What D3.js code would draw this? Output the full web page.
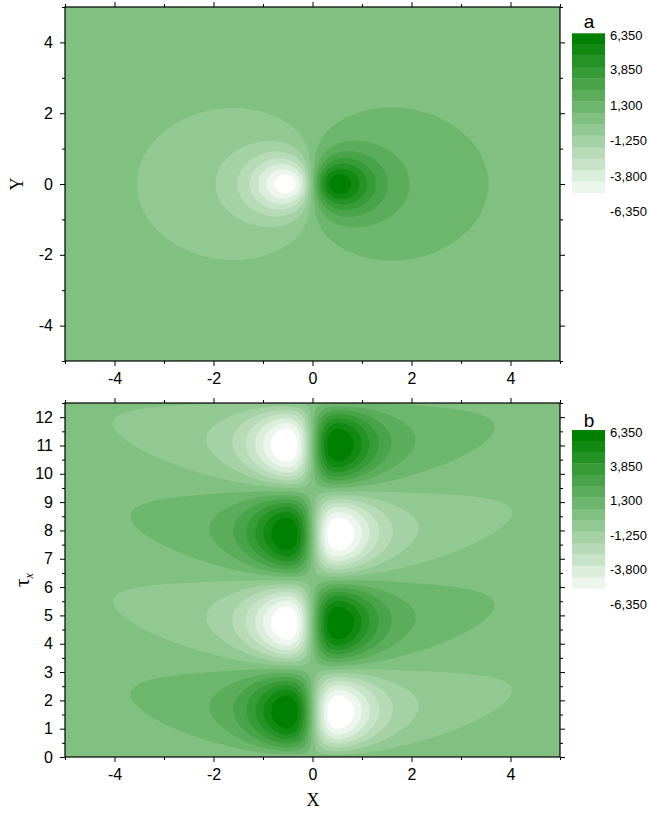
<!DOCTYPE html>
<html>
<head>
<meta charset="utf-8">
<script src="https://cdn.jsdelivr.net/npm/d3@7"></script>
<style>
  body { margin: 0; background: #fff; }
  .tick text { font-family: "Liberation Sans", Arial, sans-serif; }
</style>
</head>
<body>
<script>
// contour levels (lower edge of each colour band) and colour bar labels
const levels = [-6350, -5500, -4650, -3800, -2950, -2100, -1250, -400, 450, 1300, 2150, 3000, 3850, 4700, 5550];
const levelMax = 6350;
const barLabels = ["6,350", "3,850", "1,300", "-1,250", "-3,800", "-6,350"];
const barLabelValues = [6350, 3850, 1300, -1250, -3800, -6350];

// axis ticks
const xMajor = [-4, -2, 0, 2, 4];
const xMinor = [-5, -3, -1, 1, 3, 5];
const yMajor = [-4, -2, 0, 2, 4];
const yMinor = [-5, -3, -1, 1, 3, 5];
const tauMajor = [0, 1, 2, 3, 4, 5, 6, 7, 8, 9, 10, 11, 12];
const tauMinor = [0.5, 1.5, 2.5, 3.5, 4.5, 5.5, 6.5, 7.5, 8.5, 9.5, 10.5, 11.5, 12.5];

// field parameters (dipole profile along X)
const tailAmp = [5675, 6600];   // panel a, panel b
const coreAmp = [5270, 4340];   // panel a, panel b
const bias = [25, -13];         // panel a, panel b
const tailCore2 = 0.5;
const coreWidth2 = 0.7;
const phaseCurve = 0.048;       // upward drift of lobe tips with X^2 (panel b)

function profile(x, y, amp, core) {
    const r2 = x * x + y * y;
    return x * (amp / Math.pow(r2 + tailCore2, 1.5) + core * Math.exp(-r2 / coreWidth2));
}

const fieldA = (x, y) => profile(x, y, tailAmp[0], coreAmp[0]) + bias[0];
const fieldB = (x, t) => -profile(x, 0, tailAmp[1], coreAmp[1]) * Math.sin(t - phaseCurve * x * x) + bias[1];

const color = k => d3.interpolateRgb("#ffffff", "#008000")(k / 14);
const fmt = d => String(d);   // plain hyphen minus like the original

const svg = d3.select("body").append("svg")
    .attr("width", 648)
    .attr("height", 816);

const left = 65, right = 560;
const tickFont = "16px";

function drawPanel(cfg) {
    const x = d3.scaleLinear().domain([-5, 5]).range([left, right]);
    const y = d3.scaleLinear().domain(cfg.yDomain).range([cfg.bottom, cfg.top]);
    const g = svg.append("g");

    const clipId = "clip" + cfg.name;
    svg.append("clipPath").attr("id", clipId)
        .append("rect")
        .attr("x", left).attr("y", cfg.top)
        .attr("width", right - left).attr("height", cfg.bottom - cfg.top);

    const plot = g.append("g").attr("clip-path", `url(#${clipId})`);
    plot.append("rect")
        .attr("x", left).attr("y", cfg.top)
        .attr("width", right - left).attr("height", cfg.bottom - cfg.top)
        .attr("fill", color(0));

    // sample the field on a grid
    const nx = 496, ny = Math.round(cfg.bottom - cfg.top);
    const xd = x.domain(), yd = y.domain();
    const values = new Float64Array(nx * ny);
    for (let j = 0; j < ny; j++) {
        const yv = yd[1] - (j + 0.5) * (yd[1] - yd[0]) / ny;
        for (let i = 0; i < nx; i++) {
            const xv = xd[0] + (i + 0.5) * (xd[1] - xd[0]) / nx;
            values[j * nx + i] = cfg.field(xv, yv);
        }
    }
    const contours = d3.contours().size([nx, ny]).thresholds(levels.slice(1))(values);
    const proj = d3.geoTransform({
        point: function (px, py) {
            this.stream.point(
                x(xd[0] + px * (xd[1] - xd[0]) / nx),
                y(yd[1] - py * (yd[1] - yd[0]) / ny));
        }
    });
    const path = d3.geoPath(proj);
    plot.selectAll("path")
        .data(contours)
        .enter()
        .append("path")
        .attr("d", path)
        .attr("fill", (d, i) => color(i + 1))
        .attr("stroke", (d, i) => color(i + 1))
        .attr("stroke-width", 0.3);

    // axes, ticks outward on all four sides
    const addAxis = (axis, transform) => {
        const a = g.append("g").attr("transform", transform).call(axis);
        a.select(".domain").remove();
        a.selectAll(".tick line").attr("stroke", "#000").attr("stroke-width", 1);
        a.selectAll(".tick text").attr("font-size", tickFont).attr("fill", "#000");
        return a;
    };
    addAxis(d3.axisBottom(x).tickValues(xMajor).tickSize(5).tickPadding(7).tickFormat(fmt), `translate(0,${cfg.bottom})`);
    addAxis(d3.axisBottom(x).tickValues(xMinor).tickSize(3).tickFormat(""), `translate(0,${cfg.bottom})`);
    addAxis(d3.axisTop(x).tickValues(xMajor).tickSize(5).tickFormat(""), `translate(0,${cfg.top})`);
    addAxis(d3.axisTop(x).tickValues(xMinor).tickSize(3).tickFormat(""), `translate(0,${cfg.top})`);
    addAxis(d3.axisLeft(y).tickValues(cfg.yMajor).tickSize(5).tickPadding(7).tickFormat(fmt), `translate(${left},0)`);
    addAxis(d3.axisLeft(y).tickValues(cfg.yMinor).tickSize(3).tickFormat(""), `translate(${left},0)`);
    addAxis(d3.axisRight(y).tickValues(cfg.yMajor).tickSize(5).tickFormat(""), `translate(${right},0)`);
    addAxis(d3.axisRight(y).tickValues(cfg.yMinor).tickSize(3).tickFormat(""), `translate(${right},0)`);

    g.append("rect")
        .attr("x", left).attr("y", cfg.top)
        .attr("width", right - left).attr("height", cfg.bottom - cfg.top)
        .attr("fill", "none")
        .attr("stroke", "#000")
        .attr("stroke-width", 1.2);

    // colour bar
    const bar = d3.scaleLinear().domain([-5500, 6350]).range([cfg.barVisBottom, cfg.barTop]);
    const bands = levels.map((v, k) => ({lo: v, hi: k < levels.length - 1 ? levels[k + 1] : levelMax, k: k}));
    g.selectAll(".band")
        .data(bands)
        .enter()
        .append("rect")
        .attr("x", 572)
        .attr("width", 33)
        .attr("y", d => bar(d.hi))
        .attr("height", d => bar(d.lo) - bar(d.hi) + 0.3)
        .attr("fill", d => color(d.k));

    const lab = d3.scaleLinear().domain([6350, -6350]).range(cfg.labelRange);
    g.selectAll(".barlab")
        .data(barLabelValues)
        .enter()
        .append("text")
        .attr("x", 610)
        .attr("y", d => lab(d))
        .attr("dy", "0.35em")
        .attr("font-family", "Liberation Sans, Arial, sans-serif")
        .attr("font-size", "13px")
        .text((d, i) => barLabels[i]);

    g.append("text")
        .attr("x", 589)
        .attr("y", cfg.letterY)
        .attr("text-anchor", "middle")
        .attr("font-family", "Liberation Sans, Arial, sans-serif")
        .attr("font-size", "19px")
        .text(cfg.name);
}

drawPanel({
    name: "a", top: 7, bottom: 361, yDomain: [-5, 5],
    yMajor: yMajor, yMinor: yMinor, field: fieldA,
    barTop: 33.3, barVisBottom: 192.7, labelRange: [35, 211.7], letterY: 28
});
drawPanel({
    name: "b", top: 403, bottom: 757, yDomain: [0, 12.5],
    yMajor: tauMajor, yMinor: tauMinor, field: fieldB,
    barTop: 430, barVisBottom: 588.3, labelRange: [432.3, 604.3], letterY: 427
});

// axis titles
const serif = "Liberation Serif, Times New Roman, serif";
svg.append("text")
    .attr("transform", "translate(23,184) rotate(-90)")
    .attr("text-anchor", "middle")
    .attr("font-family", serif)
    .attr("font-size", "18px")
    .text("Y");

const tau = svg.append("text")
    .attr("transform", "translate(29,580) rotate(-90)")
    .attr("text-anchor", "middle")
    .attr("font-family", serif)
    .attr("font-size", "21px");
tau.append("tspan").text("τ");
tau.append("tspan")
    .attr("dy", "0.35em")
    .attr("font-size", "12px")
    .attr("font-style", "italic")
    .text("x");

svg.append("text")
    .attr("x", 313)
    .attr("y", 806)
    .attr("text-anchor", "middle")
    .attr("font-family", serif)
    .attr("font-size", "18px")
    .text("X");
</script>
</body>
</html>
